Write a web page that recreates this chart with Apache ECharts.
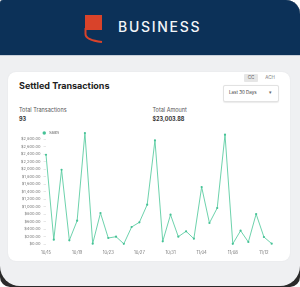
<!DOCTYPE html>
<html>
<head>
<meta charset="utf-8">
<script src="https://cdn.jsdelivr.net/npm/echarts@6/dist/echarts.min.js"></script>
<style>
  html, body { margin: 0; padding: 0; background: #ffffff; }
  body { width: 300px; height: 287px; overflow: hidden; position: relative; font-family: Inter, Roboto, "Noto Sans", sans-serif; }
  .frame { position: absolute; left: 0; top: 0; width: 300px; height: 287px; background: #2a2a2a; border-radius: 3px 14px 10px 10px; }
  .screen { position: absolute; left: 0; top: 0; width: 300px; height: 286px; background: #eff0f2; border-radius: 3px 14px 20px 20px; overflow: hidden; }
  .header { position: absolute; left: 0; top: 0; width: 300px; height: 55px; background: #0c3158; border-bottom: 1px solid #c9d0da; }
  .brand { position: absolute; left: 118px; top: 19px; font-size: 14px; line-height: 15px; color: #f4f6f9; letter-spacing: 1.7px; font-weight: 500; }
  .card { position: absolute; left: 8px; top: 72px; width: 282px; height: 189px; background: #ffffff; border-radius: 8px; box-shadow: 0 0 2px rgba(0,0,0,0.06); }
  .t { position: absolute; white-space: nowrap; }
  #chart { position: absolute; left: 0; top: 0; width: 300px; height: 287px; }
</style>
</head>
<body>
<div class="frame"></div>
<div class="screen">
  <div class="header">
    <svg style="position:absolute;left:84px;top:14px" width="20" height="29" viewBox="0 0 20 29">
      <rect x="1" y="1" width="17" height="15" fill="#d9432a"/>
      <path d="M1.5 14 L1.5 20 Q1.5 26 18 28" stroke="#d9432a" stroke-width="2" fill="none"/>
    </svg>
    <div class="brand">BUSINESS</div>
  </div>
  <div class="card"></div>
  <div class="t" style="left:19px;top:81px;font-size:9px;line-height:9px;font-weight:700;color:#222">Settled Transactions</div>
  <div class="t" style="left:19px;top:107px;font-size:5.5px;line-height:6px;color:#555">Total Transactions</div>
  <div class="t" style="left:19px;top:115.5px;font-size:5.5px;line-height:6px;font-weight:700;color:#333">93</div>
  <div class="t" style="left:152.5px;top:107px;font-size:5.5px;line-height:6px;color:#555">Total Amount</div>
  <div class="t" style="left:152.5px;top:115.5px;font-size:5.5px;line-height:6px;font-weight:700;color:#333">$23,003.88</div>
  <div class="t" style="left:244px;top:74px;width:14px;height:8px;background:#e6e6e6;border-radius:1px;font-size:4.5px;line-height:8px;text-align:center;color:#555">CC</div>
  <div class="t" style="left:262px;top:74px;width:16px;height:8px;font-size:4.5px;line-height:8px;text-align:center;color:#777">ACH</div>
  <div class="t" style="left:222.5px;top:85px;width:54px;height:15px;border:0.5px solid #e2e2e2;border-radius:2px;box-shadow:0 0.5px 1px rgba(0,0,0,0.08);background:#fff"></div>
  <div class="t" style="left:229px;top:90px;font-size:4.5px;line-height:5px;color:#333">Last 30 Days</div>
  <div class="t" style="left:268.5px;top:90px;font-size:4.5px;line-height:5px;color:#666">&#9662;</div>
</div>
<div id="chart"></div>
<script>
var dates = ['10/15', '10/16', '10/17', '10/18', '10/19', '10/20', '10/21', '10/22', '10/23', '10/24',
             '10/25', '10/26', '10/27', '10/28', '10/29', '10/30', '10/31', '11/01', '11/02', '11/03',
             '11/04', '11/05', '11/06', '11/07', '11/08', '11/09', '11/10', '11/11', '11/12', '11/13'];
var sales = [2380, 115, 1980, 99, 621, 2960, 10, 827, 160, 195,
             5, 453, 579, 1048, 2765, 72, 781, 195, 339, 141,
             1520, 560, 960, 2915, 5, 355, 53, 800, 187, 10];
var yTicks = [0, 200, 400, 600, 800, 1000, 1200, 1400, 1600, 1800, 2000, 2200, 2400, 2600, 2800];

var myChart = echarts.init(document.getElementById('chart'));

var money = function(v){
    return '$' + Number(v).toLocaleString('en-US', {minimumFractionDigits: 2, maximumFractionDigits: 2});
};

var option = {
    animation: false,
    textStyle: {fontFamily: 'Inter, Roboto, sans-serif'},
    legend: {
        data: ['Sales'],
        left: 37.5,
        top: 126,
        icon: 'circle',
        itemWidth: 3.5,
        itemHeight: 3.5,
        itemGap: 4,
        textStyle: {fontSize: 4, color: '#666', padding: [0, 0, 0, -2]}
    },
    grid: {left: 46, right: 28.3, top: 131.5, bottom: 43, containLabel: false},
    xAxis: {
        type: 'category',
        boundaryGap: false,
        data: dates,
        axisLine: {show: false},
        axisTick: {show: false},
        axisLabel: {interval: 3, fontSize: 4.2, color: '#777', margin: 7}
    },
    yAxis: {
        type: 'value',
        min: 0,
        max: 3000,
        interval: 200,
        axisLine: {show: false},
        splitLine: {show: false},
        axisTick: {show: true, length: 2.5, customValues: yTicks, lineStyle: {color: '#d6d6d6', width: 0.6}},
        axisLabel: {customValues: yTicks, fontSize: 4, color: '#777', margin: 5.5, formatter: money}
    },
    series: [{
        name: 'Sales',
        type: 'line',
        data: sales,
        symbol: 'circle',
        symbolSize: 2.2,
        color: '#3fbf90',
        lineStyle: {width: 0.9, color: '#5ccda3'},
        itemStyle: {color: '#45c296'}
    }]
};

myChart.setOption(option);
</script>
</body>
</html>
